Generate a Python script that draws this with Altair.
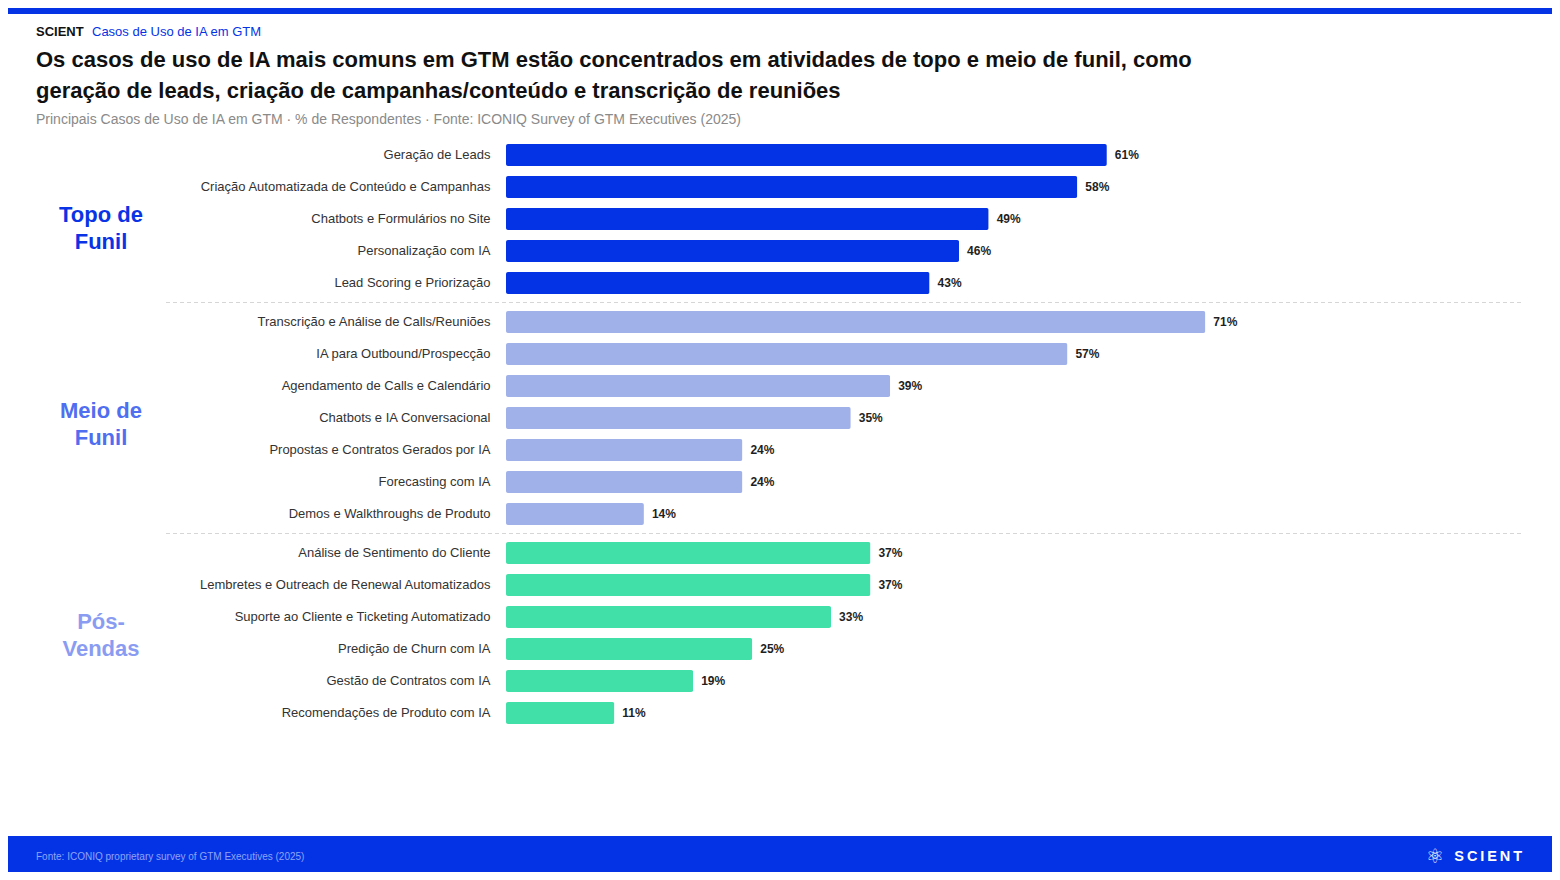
import altair as alt
import pandas as pd

FONT = "Liberation Sans"

# ---------------- data ----------------
topo_casos = [
    "Geração de Leads",
    "Criação Automatizada de Conteúdo e Campanhas",
    "Chatbots e Formulários no Site",
    "Personalização com IA",
    "Lead Scoring e Priorização",
]
topo_valores = [61, 58, 49, 46, 43]

meio_casos = [
    "Transcrição e Análise de Calls/Reuniões",
    "IA para Outbound/Prospecção",
    "Agendamento de Calls e Calendário",
    "Chatbots e IA Conversacional",
    "Propostas e Contratos Gerados por IA",
    "Forecasting com IA",
    "Demos e Walkthroughs de Produto",
]
meio_valores = [71, 57, 39, 35, 24, 24, 14]

pos_casos = [
    "Análise de Sentimento do Cliente",
    "Lembretes e Outreach de Renewal Automatizados",
    "Suporte ao Cliente e Ticketing Automatizado",
    "Predição de Churn com IA",
    "Gestão de Contratos com IA",
    "Recomendações de Produto com IA",
]
pos_valores = [37, 37, 33, 25, 19, 11]

grupos = ["Topo de\nFunil", "Meio de\nFunil", "Pós-\nVendas"]

kicker_marca = "SCIENT"
kicker_tema = "Casos de Uso de IA em GTM"
titulo = ("Os casos de uso de IA mais comuns em GTM estão concentrados em atividades de topo e meio de funil, como\n"
          "geração de leads, criação de campanhas/conteúdo e transcrição de reuniões")
subtitulo = "Principais Casos de Uso de IA em GTM · % de Respondentes · Fonte: ICONIQ Survey of GTM Executives (2025)"
rodape = "Fonte: ICONIQ proprietary survey of GTM Executives (2025)"
logo = "S\u2009C\u2009I\u2009E\u2009N\u2009T"
logo_icone = "\u269B"

# ---------------- styles ----------------
BLUE = "#0433E6"
BAR_COLORS = ["#0433E6", "#A0B0E8", "#40E0A8"]
GROUP_COLORS = ["#0A33E6", "#4F6EF0", "#8A9CF2"]
STEP = 32
WIDTH = 985


def one(text):
    return pd.DataFrame({"t": [text]})


def ann(text, x, y, **kw):
    style = dict(font=FONT, align="left", baseline="middle")
    style.update(kw)
    return alt.Chart(one(text)).mark_text(**style).encode(
        text="t:N", x=alt.value(x), y=alt.value(y)
    )


def panel(casos, valores, bar_color, label, label_color, label_y, extras=()):
    df = pd.DataFrame({"caso": casos, "valor": valores})
    base = alt.Chart(df).encode(
        y=alt.Y(
            "caso:N",
            sort=None,
            scale=alt.Scale(paddingInner=0.3125, paddingOuter=0.15625),
            axis=alt.Axis(
                title=None, domain=False, ticks=False, grid=False,
                labelPadding=16, labelFontSize=13, labelColor="#333333",
                labelFont=FONT, labelLimit=500,
            ),
        ),
        x=alt.X("valor:Q", scale=alt.Scale(domain=[0, 100]), axis=None),
    )
    bars = base.mark_bar(color=bar_color, cornerRadius=2)
    txt = base.transform_calculate(lbl="datum.valor + '%'").mark_text(
        align="left", baseline="middle", dx=8, font=FONT, fontSize=12,
        fontWeight="bold", color="#1f1f1f",
    ).encode(text="lbl:N")
    grp = ann(label, -405, label_y, align="center", fontSize=22,
              fontWeight="bold", color=label_color, lineBreak="\n",
              lineHeight=26.5)
    return alt.layer(bars, txt, grp, *extras).properties(
        width=WIDTH, height=STEP * len(casos)
    )


def separator():
    return alt.Chart(one("")).mark_rule(
        color="#D6D6D6", strokeWidth=1, strokeDash=[4, 3]
    ).encode(x=alt.value(-340), x2=alt.value(1018), y=alt.value(-3.5))


# header decorations (relative to first panel origin)
top_stripe = alt.Chart(one("")).mark_rect(color=BLUE).encode(
    x=alt.value(-498), x2=alt.value(1046), y=alt.value(-131), y2=alt.value(-125)
)
header = [
    top_stripe,
    ann(kicker_marca, -470, -107, fontSize=13, fontWeight="bold", color="#111111"),
    ann(kicker_tema, -414, -107, fontSize=13, color=BLUE),
    ann(titulo, -470, -79, fontSize=22, fontWeight="bold", color="#111111",
        lineBreak="\n", lineHeight=31),
    ann(subtitulo, -470, -19, fontSize=14, color="#8A8A8A"),
]

footer_band = alt.Chart(one("")).mark_rect(color=BLUE).encode(
    x=alt.value(-498), x2=alt.value(1046), y=alt.value(299), y2=alt.value(335)
)
footer = [
    footer_band,
    ann(rodape, -470, 320, fontSize=10, color="#8FA3F5"),
    ann(logo_icone, 929, 320, align="center", fontSize=20, color="white",
        font="DejaVu Sans"),
    ann(logo, 1016, 320, align="right", fontSize=14.5, fontWeight="bold",
        color="white"),
]

p1 = panel(topo_casos, topo_valores, BAR_COLORS[0], grupos[0],
           GROUP_COLORS[0], 76, header)
p2 = panel(meio_casos, meio_valores, BAR_COLORS[1], grupos[1],
           GROUP_COLORS[1], 105, [separator()])
p3 = panel(pos_casos, pos_valores, BAR_COLORS[2], grupos[2],
           GROUP_COLORS[2], 85, [separator()] + footer)

chart = (
    alt.vconcat(p1, p2, p3, spacing=7, bounds="flush")
    .properties(padding=0, background="white")
    .configure_view(stroke=None)
)

chart.save("out.html", embed_options={"renderer": "svg", "actions": False})
